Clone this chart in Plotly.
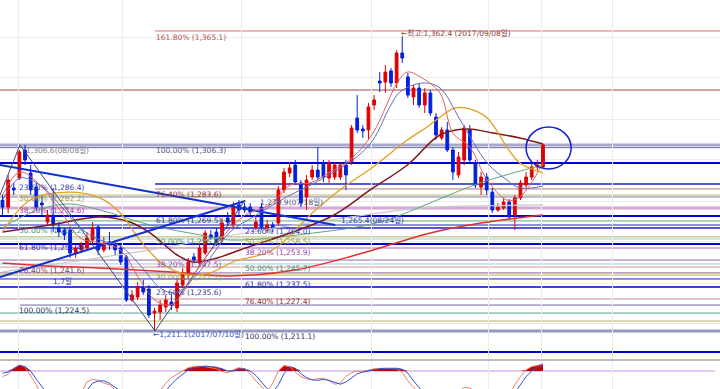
import plotly.graph_objects as go

# ---------------- data ----------------
candle_idx = list(range(97))
open_ = [1278.3,1274.7,1284.5,1289.6,1304.0,1292.2,1285.0,1276.8,1267.0,1270.6,
         1264.0,1262.9,1262.9,1251.1,1252.7,1253.7,1257.8,1264.5,1252.7,1256.8,
         1255.2,1253.7,1249.1,1227.0,1228.5,1233.6,1232.6,1220.3,1220.8,1223.4,
         1226.0,1222.9,1234.7,1239.8,1249.1,1246.0,1251.1,1260.4,1261.9,1257.8,
         1269.1,1265.5,1275.8,1274.7,1274.7,1264.5,1274.7,1262.9,1265.5,1266.5,
         1283.5,1292.2,1296.3,1287.1,1279.9,1290.1,1293.7,1297.3,1289.6,1290.1,
         1290.1,1296.3,1297.8,1320.4,1314.8,1314.3,1327.1,1339.4,1338.9,1344.6,
         1338.4,1353.8,1341.5,1331.2,1335.8,1327.1,1333.3,1320.9,1310.2,1314.3,
         1304.0,1291.2,1298.9,1314.3,1297.3,1285.0,1290.1,1282.4,1273.2,1274.2,
         1277.3,1270.6,1279.4,1286.0,1290.1,1295.3,1295.3]
high_ = [1280.9,1291.2,1287.1,1304.0,1306.6,1296.3,1287.1,1280.9,1273.2,1284.5,
         1267.0,1264.0,1264.5,1255.2,1256.8,1261.9,1267.0,1265.5,1259.3,1261.9,
         1257.8,1256.3,1250.1,1232.1,1236.2,1237.3,1234.7,1222.9,1227.0,1229.6,
         1229.6,1238.3,1243.4,1248.6,1251.1,1256.3,1262.9,1262.9,1264.0,1269.1,
         1272.2,1277.3,1278.3,1276.8,1276.8,1270.1,1276.8,1268.1,1267.0,1285.5,
         1294.8,1297.8,1298.9,1288.6,1291.2,1296.3,1305.5,1298.9,1298.9,1297.8,
         1297.8,1298.9,1316.8,1332.2,1316.8,1328.1,1332.2,1344.0,1347.6,1346.1,
         1355.3,1362.4,1343.5,1337.4,1338.4,1335.8,1334.8,1323.0,1315.8,1318.4,
         1305.5,1303.0,1316.8,1316.8,1298.9,1292.7,1292.2,1284.5,1276.8,1279.4,
         1278.8,1280.9,1288.6,1292.7,1297.3,1298.9,1307.1]
low_ = [1270.6,1271.6,1280.9,1288.6,1296.3,1280.9,1273.2,1270.6,1265.5,1261.9,
        1259.3,1257.8,1248.6,1248.6,1251.1,1252.7,1256.3,1250.1,1251.6,1252.7,
        1250.1,1245.0,1226.0,1226.0,1227.0,1229.6,1217.8,1211.1,1216.7,1220.8,
        1221.8,1220.8,1233.2,1238.3,1246.0,1245.0,1250.1,1257.8,1254.7,1256.3,
        1265.0,1264.0,1270.6,1271.7,1270.6,1262.9,1262.9,1261.4,1261.9,1265.0,
        1281.9,1290.1,1286.0,1274.7,1273.2,1288.6,1288.6,1287.6,1287.1,1288.6,
        1288.6,1283.5,1296.3,1312.7,1310.2,1309.1,1324.5,1333.8,1333.3,1336.3,
        1335.8,1348.7,1330.7,1327.1,1325.6,1323.0,1321.5,1309.1,1309.1,1303.0,
        1288.6,1289.6,1296.3,1297.3,1284.5,1280.9,1280.9,1271.7,1272.2,1273.2,
        1268.1,1262.9,1278.3,1284.5,1288.6,1293.7,1294.8]
close_ = [1274.7,1288.6,1283.5,1303.0,1298.9,1283.5,1274.7,1275.8,1270.6,1265.5,
          1261.9,1260.4,1251.1,1253.7,1255.2,1258.8,1264.0,1252.7,1256.3,1255.2,
          1252.7,1246.5,1227.0,1229.6,1233.6,1231.1,1219.3,1221.3,1224.4,1227.0,
          1224.4,1235.7,1240.9,1246.5,1247.5,1253.7,1261.4,1258.8,1256.3,1266.5,
          1267.0,1275.3,1273.2,1273.2,1272.2,1267.0,1264.5,1265.5,1264.0,1283.5,
          1292.7,1294.8,1287.6,1276.8,1288.6,1293.7,1290.1,1290.1,1297.3,1296.3,
          1296.3,1291.2,1315.3,1314.3,1313.8,1326.1,1329.7,1338.4,1344.0,1338.4,
          1353.8,1351.2,1332.2,1335.8,1327.1,1333.3,1323.0,1311.7,1314.3,1304.0,
          1292.7,1300.4,1315.3,1298.9,1286.0,1290.1,1283.5,1273.2,1274.7,1277.3,
          1269.6,1279.4,1287.1,1290.1,1295.3,1296.3,1306.6]

# moving averages read at sample candles
ma5_x = [0,3.1,6.7,10.2,13.8,17.3,20.9,24.4,27.1,29.8,32.4,35.1,38.6,43.1,47.5,51.1,
         54.6,58.2,61.7,65.8,70.1,71.9,74.2,77.7,80,83,86.1,89.6,91.9,96]
ma5_v = [1280.9,1292.7,1286.0,1273.2,1258.8,1256.3,1252.7,1237.3,1227.0,1224.4,1232.1,
         1245.0,1257.8,1270.6,1275.8,1286.0,1287.1,1292.7,1298.9,1312.7,1338.4,1344.0,
         1341.5,1333.3,1312.7,1305.5,1288.6,1278.3,1279.9,1297.3]
ma10_x = [0,3.1,6.7,10.2,13.8,17.3,20.9,24.4,28,30.6,33.3,36.9,40.4,44.5,50.5,56.4,
          62.9,65.8,68.8,70.6,74.7,77.7,81.3,86.1,89.6,91.9,96]
ma10_v = [1278.3,1289.6,1286.0,1275.8,1264.0,1257.8,1254.7,1245.0,1233.2,1230.6,1236.2,
          1248.6,1261.9,1269.6,1279.9,1288.6,1300.4,1309.1,1326.1,1333.8,1338.4,1335.8,
          1319.4,1297.3,1288.6,1284.5,1285.5]
ma20_x = [0,4.9,11.5,17.3,20.9,24.4,28,31,33.8,36.9,40.9,48,55.2,59.9,65.8,71.9,75.4,
          80.4,83,86.1,89.6,91.9,96]
ma20_v = [1261.9,1278.3,1282.4,1279.4,1271.7,1257.8,1246.5,1241.4,1239.8,1240.9,1246.5,
          1252.7,1272.2,1283.5,1295.3,1309.1,1315.8,1325.6,1325.1,1320.4,1305.5,1297.3,
          1292.2]
ma60_x = [0,8.4,17.3,22.6,26.2,31,33.8,38.1,42.2,58.2,65.3,71.9,77.7,82.5,87.1,91.9,96]
ma60_v = [1261.9,1265.5,1269.6,1267.0,1261.4,1250.1,1246.5,1248.6,1252.7,1269.6,1283.5,
          1296.3,1311.7,1314.8,1312.7,1310.2,1307.1]
ma120_x = [0,5.4,11.5,17.3,26.2,35.1,40.4,55.2,67.1,75.9,84.8,96]
ma120_v = [1264.0,1272.2,1276.3,1273.2,1265.5,1260.4,1257.8,1261.4,1267.0,1276.8,
           1287.1,1296.3]
mag_x = [0,12,26.2,44,58.2,74.2,84.8,96]
mag_v = [1241.4,1246.5,1252.7,1261.9,1268.1,1274.2,1275.3,1275.8]
ma240_x = [0,8,17,30,40,52,64,76,85,96]
ma240_v = [1246.0,1244.5,1243.4,1241.4,1239.3,1242.4,1251.1,1261.4,1266.5,1270.6]

# trend lines and zigzag
trend1_x = [-0.44, 59.1]; trend1_v = [1296.3, 1265.5]
trend2_x = [-0.44, 43.1]; trend2_v = [1238.8, 1277.8]
zig_x = [-0.44, 3.1, 27.1, 43.1]; zig_v = [1280.9, 1306.6, 1211.1, 1278.3]

# horizontal levels: price, colour, width, start candle
levels = [(1365.1,'#e07070',1,27.1),(1334.8,'#a04848',1,-0.5),(1306.6,'#a8a8cc',3,-0.5),
          (1305.2,'#6a6a98',1,-0.5),(1297.3,'#0000d0',2,-0.5),(1286.6,'#2020c0',1.5,27.1),
          (1284.0,'#b07878',1,27.1),(1280.9,'#c0b870',1,-0.5),(1279.9,'#7878b0',1,-0.5),
          (1274.2,'#d4a8d8',3,-0.5),(1270.1,'#0000d0',2,-0.5),(1267.6,'#60a888',1,-0.5),
          (1265.5,'#2020c0',1,-0.5),(1264.0,'#2020c0',1.5,-0.5),(1259.4,'#b8b060',1,-0.5),
          (1258.3,'#98d4dc',1,-0.5),(1255.8,'#0000d0',2,-0.5),(1253.7,'#c898c8',1.5,-0.5),
          (1247.5,'#9868a8',1,-0.5),(1245.5,'#98d4dc',1,-0.5),(1243.9,'#c89898',1,-0.5),
          (1240.9,'#9060a0',1,-0.5),(1239.8,'#b8b060',1,-0.5),(1237.8,'#2020c0',1,-0.5),
          (1233.7,'#0000d0',1.5,-0.5),(1227.5,'#c09090',1,-0.5),(1224.4,'#6868a8',1,3.1),
          (1220.3,'#50a090',1,-0.5),(1216.2,'#b8b060',1,-0.5),(1211.1,'#9898c0',3,-0.5),
          (1200.3,'#0000d0',2,-0.5)]

# labels: text, candle x, price, colour
labels = [("161.80% (1,365.1)",27.0,1362.0,'#c04848'),
          ("←최고:1,362.4 (2017/09/08일)",70.6,1364.1,'#904040'),
          ("100.00% (1,306.3)",27.0,1303.5,'#505080'),
          ("1,306.6(08/08일)",4.0,1303.5,'#808080'),
          ("23.60% (1,286.4)",2.8,1284.5,'#4040a0'),
          ("30.00% (1,282.2)",2.8,1278.9,'#a0a040'),
          ("38.20% (1,274.6)",2.8,1272.7,'#a040a0'),
          ("50.00% (1,265.2)",2.8,1262.9,'#409070'),
          ("61.80% (1,255.4)",2.8,1253.7,'#3030a0'),
          ("76.40% (1,241.6)",2.8,1242.2,'#804060'),
          ("1,7일",8.8,1236.4,'#3030c0'),
          ("100.00% (1,224.5)",2.8,1221.8,'#303060'),
          ("76.40% (1,283.6)",27.0,1281.4,'#903030'),
          ("61.80% (1,269.5)",27.0,1267.6,'#3030a0'),
          ("50.00% (1,256.0)",27.0,1256.8,'#409070'),
          ("38.20% (1,247.5)",27.0,1245.0,'#a040a0'),
          ("30.00% (1,241.1)",27.0,1238.3,'#a0a040'),
          ("23.60% (1,235.6)",27.0,1231.1,'#3040a0'),
          ("←1,211.1(2017/07/10일)",26.6,1209.5,'#3050c0'),
          ("1,279.9(07/18일)",45.6,1277.3,'#505080'),
          ("1,265.4(08/24일)",60.0,1267.6,'#3030c0'),
          ("23.60% (1,264.0)",42.9,1262.2,'#3040a0'),
          ("50.00% (1,258.5)",42.9,1256.9,'#a0a040'),
          ("38.20% (1,253.9)",42.9,1251.2,'#a040a0'),
          ("50.00% (1,245.7)",42.9,1243.4,'#409070'),
          ("61.80% (1,237.5)",42.9,1235.2,'#3030a0'),
          ("76.40% (1,227.4)",42.9,1226.0,'#903030'),
          ("100.00% (1,211.1)",42.9,1208.5,'#303060')]

# stochastic (slow %D blue, %K salmon)
stoch_d = [76,78,84,90,88,80,65,50,35,25,20,18,20,25,30,45,58,62,62,58,52,45,35,25,20,18,20,22,
           32,45,56,66,74,82,86,88,89,88,87,84,80,80,83,84,80,72,60,48,42,55,75,88,85,75,68,64,
           63,65,63,60,56,60,68,75,78,80,83,84,85,85,85,83,76,62,48,38,30,25,22,22,25,30,38,42,
           40,35,32,28,25,28,32,40,55,70,80,86,90]
stoch_k = [70,74,85,91,87,72,55,35,22,18,20,22,25,32,40,60,65,63,58,55,45,35,22,18,20,22,22,30,
           45,58,68,74,80,86,88,89,88,86,84,79,77,82,86,84,75,62,50,42,58,80,90,88,78,70,66,64,
           66,67,62,56,58,70,77,80,79,82,84,85,85,85,84,78,62,50,40,32,25,22,25,28,35,42,50,49,
           40,35,30,25,28,32,38,55,70,82,88,90,93]
stoch_level = 80

grid_x = [2.8, 21.4, 42.5, 65.5, 86.4, 95.7, 108.4]
grid_y = [1362.0, 1341.0, 1319.9, 1298.9, 1277.8, 1256.8, 1235.7, 1214.7]
circle_x = (93.0, 101.0); circle_v = (1294.3, 1315.8)

# ---------------- figure ----------------
X0, X1 = -0.444, 127.44
fig = go.Figure()

for p, col, w, s in levels:
    fig.add_shape(type='line', xref='x', yref='y', x0=s, x1=X1, y0=p, y1=p,
                  line=dict(color=col, width=w), layer='below')

def line(x, y, col, w, shape='spline'):
    fig.add_trace(go.Scatter(x=x, y=y, mode='lines', line=dict(color=col, width=w, shape=shape),
                             hoverinfo='skip', showlegend=False, xaxis='x', yaxis='y'))

line(mag_x, mag_v, '#c8c8c8', 1.2)
line(ma120_x, ma120_v, '#60a870', 1)
line(ma240_x, ma240_v, '#e03030', 1.5)
line(ma60_x, ma60_v, '#801818', 1.5)
line(ma20_x, ma20_v, '#e0a020', 1.3)
line(trend1_x, trend1_v, '#1030d0', 2, 'linear')
line(trend2_x, trend2_v, '#1030d0', 2, 'linear')
line(zig_x, zig_v, '#404878', 1, 'linear')

fig.add_trace(go.Candlestick(x=candle_idx, open=open_, high=high_, low=low_, close=close_,
                             increasing=dict(line=dict(color='#e00000', width=1), fillcolor='#e00000'),
                             decreasing=dict(line=dict(color='#0020e0', width=1), fillcolor='#0020e0'),
                             whiskerwidth=0, hoverinfo='skip', showlegend=False,
                             xaxis='x', yaxis='y'))

line(ma10_x, ma10_v, '#6070c0', 1)
line(ma5_x, ma5_v, '#e06060', 1)

fig.add_shape(type='circle', xref='x', yref='y', x0=circle_x[0], x1=circle_x[1],
              y0=circle_v[0], y1=circle_v[1], line=dict(color='#1020d0', width=1.5))

for t, xi, p, col in labels:
    fig.add_annotation(x=xi, y=p, xref='x', yref='y', text=t, showarrow=False,
                       xanchor='left', yanchor='middle', borderpad=0,
                       font=dict(family='DejaVu Sans, Noto Sans CJK KR', size=7.5, color=col))

# stochastic panel
top = [max(a, b, stoch_level) for a, b in zip(stoch_d, stoch_k)]
fig.add_trace(go.Scatter(x=candle_idx, y=[stoch_level]*len(candle_idx), mode='lines',
                         line=dict(width=0), hoverinfo='skip', showlegend=False,
                         xaxis='x2', yaxis='y2'))
fig.add_trace(go.Scatter(x=candle_idx, y=top, mode='lines', fill='tonexty',
                         fillcolor='#c80000', line=dict(width=0), hoverinfo='skip',
                         showlegend=False, xaxis='x2', yaxis='y2'))
fig.add_shape(type='line', xref='x2', yref='y2', x0=X0, x1=126.6, y0=stoch_level, y1=stoch_level,
              line=dict(color='#d8b8e8', width=1.5), layer='below')
fig.add_trace(go.Scatter(x=candle_idx, y=stoch_k, mode='lines', line=dict(color='#f08060', width=1),
                         hoverinfo='skip', showlegend=False, xaxis='x2', yaxis='y2'))
fig.add_trace(go.Scatter(x=candle_idx, y=stoch_d, mode='lines', line=dict(color='#3050e0', width=1),
                         hoverinfo='skip', showlegend=False, xaxis='x2', yaxis='y2'))
fig.add_shape(type='line', xref='paper', yref='paper', x0=0, x1=1, y0=29/389, y1=29/389,
              line=dict(color='#a8a8a8', width=1.5))

fig.update_layout(
    width=720, height=389, autosize=False,
    margin=dict(l=0, r=0, t=0, b=0),
    paper_bgcolor='white', plot_bgcolor='white',
    showlegend=False,
    xaxis=dict(range=[X0, X1], domain=[0, 1], anchor='y', showticklabels=False,
               tickvals=grid_x, showgrid=True, gridcolor='#ececec', gridwidth=1,
               zeroline=False, rangeslider=dict(visible=False), fixedrange=True,
               showline=False, ticks=''),
    yaxis=dict(range=[1196.2, 1381.0], domain=[29/389, 1], anchor='x', showticklabels=False,
               tickvals=grid_y, showgrid=True, gridcolor='#ececec', zeroline=False,
               fixedrange=True, ticks=''),
    xaxis2=dict(range=[X0, X1], domain=[0, 1], anchor='y2', matches='x', showticklabels=False,
                tickvals=grid_x, showgrid=True, gridcolor='#ececec', zeroline=False,
                rangeslider=dict(visible=False), fixedrange=True, ticks=''),
    yaxis2=dict(range=[47.3, 100], domain=[0, 29/389], anchor='x2', showticklabels=False,
                showgrid=False, zeroline=False, fixedrange=True, ticks=''),
)

fig.write_html("out.html", config={'displayModeBar': False})
